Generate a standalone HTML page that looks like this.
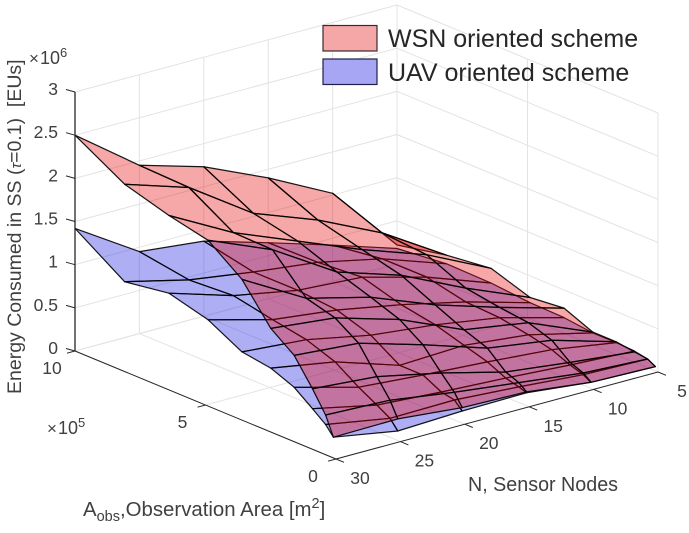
<!DOCTYPE html>
<html>
<head>
<meta charset="utf-8">
<title>Energy consumed surface chart</title>
<style>
html,body{margin:0;padding:0;background:#fff;}
svg{display:block;}
text{font-family:"Liberation Sans",sans-serif;fill:#404040;}
</style>
</head>
<body>
<svg id="chart" width="689" height="533" viewBox="0 0 689 533" xmlns="http://www.w3.org/2000/svg">
<g id="grid"></g>
<g id="uav"></g>
<g id="wsn"></g>
<g id="axes"></g>
<g id="ticklabels"></g>

<text x="29" y="64" font-size="17">×<tspan font-size="18" dx="1">10</tspan><tspan font-size="13" dy="-7">6</tspan></text>
<text x="47" y="434" font-size="17">×<tspan font-size="18" dx="1">10</tspan><tspan font-size="13" dy="-7">5</tspan></text>

<text transform="translate(21,394) rotate(-90)" font-size="19.5" xml:space="preserve">Energy Consumed in SS (<tspan font-style="italic" font-size="15">τ</tspan>=0.1)  [EUs]</text>
<text x="83" y="516" font-size="20.4">A<tspan font-size="14.5" dy="5">obs</tspan><tspan dy="-5">,Observation Area [m</tspan><tspan font-size="14.5" dy="-8">2</tspan><tspan dy="8">]</tspan></text>
<text x="468" y="491" font-size="20" textLength="150" lengthAdjust="spacingAndGlyphs">N, Sensor Nodes</text>

<g>
<rect x="323" y="25.5" width="54" height="25.5" fill="#f5a6a6" stroke="#3a2a30" stroke-width="1.2"/>
<rect x="323" y="59" width="54" height="25.5" fill="#a6a6f5" stroke="#20204a" stroke-width="1.2"/>
<text x="388" y="47" font-size="25" style="fill:#262626">WSN oriented scheme</text>
<text x="388" y="81" font-size="25" style="fill:#262626">UAV oriented scheme</text>
</g>
</svg>

<script>
// Data (rows: largest area first, columns follow nodeCounts)
const nodeCounts = [30, 25, 20, 15, 10, 5];
const areaValues = [10, 8.1, 6.4, 4.9, 3.6, 2.5, 1.6, 0.9, 0.4, 0.1]; // x 10^5 m^2
const wsnEnergy = [
  [2.50, 1.95, 1.73, 1.40, 1.02, 0.22],
  [2.17, 1.93, 1.43, 1.15, 0.80, 0.34],
  [2.02, 1.62, 1.32, 1.02, 0.76, 0.40],
  [1.92, 1.61, 1.15, 0.91, 0.56, 0.25],
  [1.63, 1.21, 1.02, 0.73, 0.50, 0.29],
  [1.20, 1.12, 0.90, 0.58, 0.46, 0.15],
  [1.00, 0.94, 0.72, 0.48, 0.37, 0.15],
  [0.70, 0.64, 0.48, 0.29, 0.20, 0.12],
  [0.46, 0.43, 0.32, 0.23, 0.14, 0.10],
  [0.24, 0.25, 0.18, 0.16, 0.07, 0.05]
];
const uavEnergy = [
  [1.42, 0.95, 0.87, 0.65, 0.42, 0.18],
  [1.04, 0.86, 0.75, 0.66, 0.50, 0.24],
  [1.12, 0.89, 0.75, 0.70, 0.50, 0.23],
  [1.00, 0.80, 0.71, 0.57, 0.40, 0.19],
  [0.79, 0.73, 0.58, 0.50, 0.38, 0.18],
  [0.74, 0.61, 0.37, 0.40, 0.32, 0.14],
  [0.63, 0.43, 0.37, 0.32, 0.26, 0.14],
  [0.47, 0.31, 0.26, 0.22, 0.17, 0.13],
  [0.35, 0.22, 0.23, 0.18, 0.12, 0.10],
  [0.24, 0.11, 0.14, 0.15, 0.07, 0.05]
];
const zTicks = [0, 0.5, 1, 1.5, 2, 2.5, 3];
const zTickLabels = ["0", "0.5", "1", "1.5", "2", "2.5", "3"];
const nTicks = [5, 10, 15, 20, 25, 30];
const nTickLabels = ["5", "10", "15", "20", "25", "30"];
const aTicks = [0, 5, 10];
const aTickLabels = ["0", "5", "10"];

// Axis functions (orthographic projection)
function projX(n, a) { return 336 + (30 - n) * 12.88 - a * 26.1; }
function projY(n, a, z) { return 459 - (30 - n) * 3.48 - a * 10.8 - z * 86.33; }

const SVGNS = "http://www.w3.org/2000/svg";
function line(parent, x1, y1, x2, y2, color, w) {
  const el = document.createElementNS(SVGNS, "line");
  el.setAttribute("x1", x1);
  el.setAttribute("y1", y1);
  el.setAttribute("x2", x2);
  el.setAttribute("y2", y2);
  el.setAttribute("stroke", color);
  el.setAttribute("stroke-width", w);
  parent.appendChild(el);
  return el;
}
function seg3(parent, p, q, color, w) {
  return line(parent, projX(p[0], p[1]), projY(p[0], p[1], p[2]), projX(q[0], q[1]), projY(q[0], q[1], q[2]), color, w);
}

const gridG = document.getElementById("grid");
const axesG = document.getElementById("axes");
const labelG = document.getElementById("ticklabels");
const gridColor = "#e3e3e3";
const nMin = 5, nMax = 30, aMin = 0, aMax = 10, zMax = 3;

// Grid: walls at a = aMax and n = nMin, plus floor
zTicks.forEach(function (z) {
  const l1 = seg3(gridG, [nMax, aMax, z], [nMin, aMax, z], gridColor, 1);
  
  
  const l2 = seg3(gridG, [nMin, aMax, z], [nMin, aMin, z], gridColor, 1);
  
  
});
nTicks.forEach(function (n) {
  const l1 = seg3(gridG, [n, aMax, 0], [n, aMax, zMax], gridColor, 1);
  
  
  const l2 = seg3(gridG, [n, aMin, 0], [n, aMax, 0], gridColor, 1);
  
  
});
aTicks.forEach(function (a) {
  const l1 = seg3(gridG, [nMin, a, 0], [nMin, a, zMax], gridColor, 1);
  
  
  const l2 = seg3(gridG, [nMin, a, 0], [nMax, a, 0], gridColor, 1);
  
  
});

// Surfaces, painted back to front
function drawSurface(groupId, values, fill, alpha, faceName, strokeWidth) {
  const g = document.getElementById(groupId);
  for (let r = 0; r < areaValues.length - 1; r++) {
    for (let c = nodeCounts.length - 2; c >= 0; c--) {
      const corners = [[r, c], [r, c + 1], [r + 1, c + 1], [r + 1, c]];
      const pts = corners.map(function (rc) {
        const n = nodeCounts[rc[1]], a = areaValues[rc[0]], z = values[rc[0]][rc[1]];
        return projX(n, a).toFixed(1) + "," + projY(n, a, z).toFixed(1);
      }).join(" ");
      const poly = document.createElementNS(SVGNS, "polygon");
      poly.setAttribute("points", pts);
      poly.setAttribute("fill", fill);
      poly.setAttribute("fill-opacity", alpha);
      poly.setAttribute("stroke", "#000");
      poly.setAttribute("stroke-opacity", "0.9");
      poly.setAttribute("stroke-width", strokeWidth);
      poly.setAttribute("stroke-linejoin", "round");
      
      
      g.appendChild(poly);
    }
  }
}
drawSurface("uav", uavEnergy, "#2a2ae6", 0.38, "uav-surface-face", 1.2);
drawSurface("wsn", wsnEnergy, "#e60a0a", 0.36, "wsn-surface-face", 1.25);

// Axes
const axisColor = "#262626";
const zAxis = seg3(axesG, [nMax, aMax, 0], [nMax, aMax, zMax], axisColor, 1.3);


const aAxis = seg3(axesG, [nMax, aMax, 0], [nMax, aMin, 0], axisColor, 1);


const nAxis = seg3(axesG, [nMax, aMin, 0], [nMin, aMin, 0], axisColor, 1);



function label(str, x, y, anchor) {
  const t = document.createElementNS(SVGNS, "text");
  t.textContent = str;
  t.setAttribute("x", x);
  t.setAttribute("y", y);
  t.setAttribute("font-size", "17.5");
  t.setAttribute("text-anchor", anchor);
  labelG.appendChild(t);
  return t;
}
zTicks.forEach(function (z, i) {
  const x = projX(nMax, aMax), y = projY(nMax, aMax, z);
  const tick = line(axesG, x - 9, y - 2.5, x, y, axisColor, 1);
  
  
  const t = label(zTickLabels[i], x - 17, y + 3, "end");
  
  
});
nTicks.forEach(function (n, i) {
  const x = projX(n, aMin), y = projY(n, aMin, 0);
  const tick = line(axesG, x, y, x + 8, y + 3.3, axisColor, 1);
  
  
  const t = label(nTickLabels[i], x + 24, y + 25, "middle");
  
  
});
aTicks.forEach(function (a, i) {
  const x = projX(nMax, a), y = projY(nMax, a, 0);
  const tick = line(axesG, x, y, x - 8, y + 2.2, axisColor, 1);
  
  
  const t = label(aTickLabels[i], x - 23, y + 23, "middle");
  
  
});
</script>
</body>
</html>
